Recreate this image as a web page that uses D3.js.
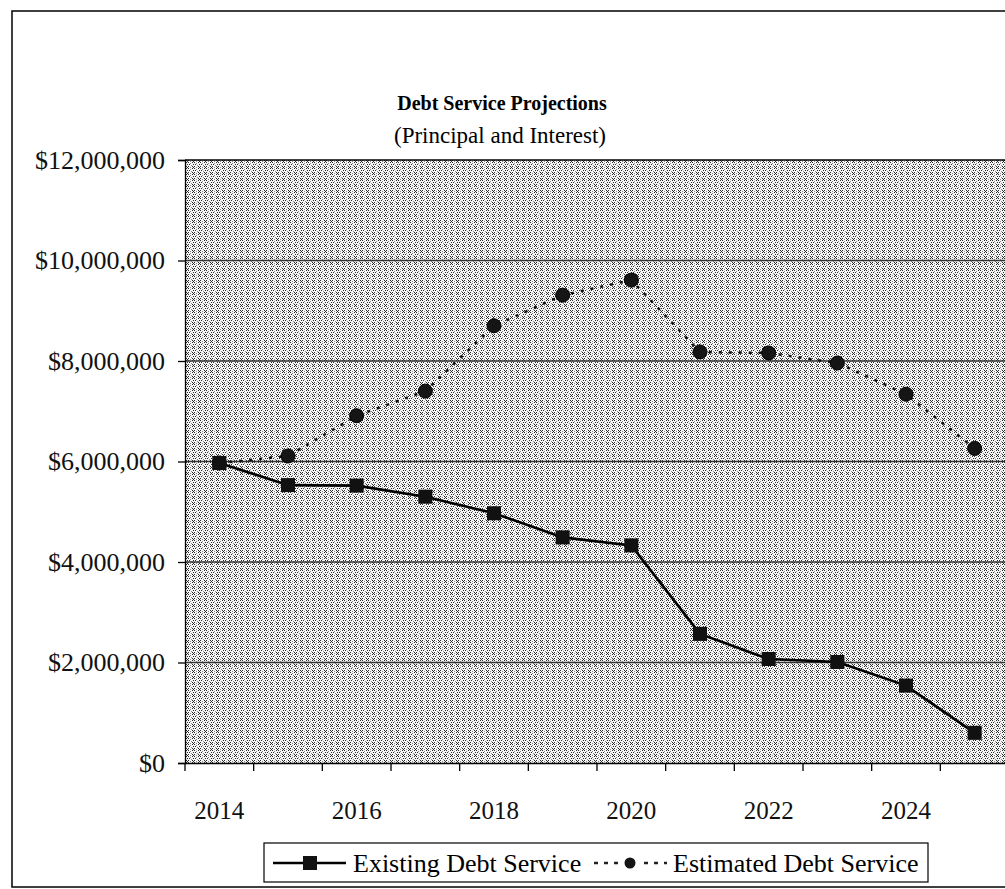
<!DOCTYPE html>
<html>
<head>
<meta charset="utf-8">
<script src="https://cdn.jsdelivr.net/npm/d3@7"></script>
<style>
  body { margin: 0; background: #fff; }
  svg { display: block; font-family: "Liberation Serif", "Times New Roman", serif; }
</style>
</head>
<body>
<svg id="chart" width="1005" height="889"></svg>
<script>
// values (dollars)
var years = [2014, 2015, 2016, 2017, 2018, 2019, 2020, 2021, 2022, 2023, 2024, 2025];
var existingDebt = [5970000, 5530000, 5520000, 5300000, 4970000, 4490000, 4330000, 2570000, 2070000, 2010000, 1540000, 600000];
var estimatedDebt = [5970000, 6110000, 6910000, 7400000, 8700000, 9310000, 9610000, 8180000, 8160000, 7960000, 7340000, 6260000];
var yTicks = [0, 2000000, 4000000, 6000000, 8000000, 10000000, 12000000];
var labelYears = [2014, 2016, 2018, 2020, 2022, 2024];

var svg = d3.select("#chart");

var plotLeft = 185, plotRight = 1009, plotTop = 160, plotBottom = 763;

var x = d3.scaleBand().domain(years).range([plotLeft, plotRight]);
var y = d3.scaleLinear().domain([0, 12000000]).range([plotBottom, plotTop]);
var money = function(d) { return "$" + d3.format(",")(d); };

// halftone-ish fill of the plot area
var defs = svg.append("defs");
var pat = defs.append("pattern")
  .attr("id", "stipple")
  .attr("patternUnits", "userSpaceOnUse")
  .attr("width", 6).attr("height", 6);
pat.append("rect").attr("width", 6).attr("height", 6).attr("fill", "#f6f6f6");
var dots = [[0,0],[2,0],[4,1],[1,2],[3,2],[5,3],[0,4],[2,4],[4,5],[1,5]];
pat.selectAll("rect.d").data(dots).enter().append("rect")
  .attr("class", "d")
  .attr("x", function(d) { return d[0]; })
  .attr("y", function(d) { return d[1]; })
  .attr("width", 1).attr("height", 1)
  .attr("fill", function(d, i) { return i % 3 === 2 ? "#888" : "#2a2a2a"; });

// outer frame
svg.append("rect")
  .attr("x", 12).attr("y", 11)
  .attr("width", 1010).attr("height", 876)
  .attr("fill", "none").attr("stroke", "#000").attr("stroke-width", 1.5);

// titles
svg.append("text")
  .attr("x", 502).attr("y", 110)
  .attr("text-anchor", "middle")
  .attr("font-size", 20).attr("font-weight", "bold")
  .text("Debt Service Projections");
svg.append("text")
  .attr("x", 500).attr("y", 143)
  .attr("text-anchor", "middle")
  .attr("font-size", 23)
  .text("(Principal and Interest)");

svg.append("rect")
  .attr("x", plotLeft).attr("y", plotTop)
  .attr("width", plotRight - plotLeft).attr("height", plotBottom - plotTop)
  .attr("fill", "url(#stipple)");

// gridlines
svg.append("g").selectAll("line").data(yTicks.slice(1)).enter().append("line")
  .attr("x1", plotLeft).attr("x2", plotRight)
  .attr("y1", function(d) { return y(d); })
  .attr("y2", function(d) { return y(d); })
  .attr("stroke", function(d) { return d === 12000000 ? "#000" : "#333"; })
  .attr("stroke-width", function(d) { return d === 12000000 ? 1.5 : 1.3; });

// y axis
var yAxis = svg.append("g")
  .attr("transform", "translate(" + plotLeft + ",0)")
  .call(d3.axisLeft(y).tickValues(yTicks).tickFormat(money).tickSize(7).tickPadding(13));
yAxis.selectAll("text").attr("font-size", 26).attr("font-family", "Liberation Serif").attr("fill", "#111");
yAxis.selectAll("line, path").attr("stroke", "#000").attr("stroke-width", 1.3);

// x axis: category ticks sit between the years
var xAxis = svg.append("g")
  .attr("transform", "translate(0," + plotBottom + ")")
  .call(d3.axisBottom(x).tickValues(labelYears).tickSize(0).tickPadding(38));
xAxis.select(".domain").attr("stroke", "#000").attr("stroke-width", 1.3);
xAxis.selectAll("text").attr("font-size", 25).attr("font-family", "Liberation Serif").attr("fill", "#111");
xAxis.selectAll(".tick line").remove();
var edges = years.map(function(d) { return x(d); });
xAxis.selectAll("line.edge").data(edges).enter().append("line")
  .attr("class", "edge")
  .attr("x1", function(d) { return d; }).attr("x2", function(d) { return d; })
  .attr("y1", 0).attr("y2", 8)
  .attr("stroke", "#000").attr("stroke-width", 1.3);

var cx = function(d, i) { return x(years[i]) + x.bandwidth() / 2; };
var line = d3.line()
  .x(function(d, i) { return cx(d, i); })
  .y(function(d) { return y(d); });

// estimated (dotted) first so the existing squares sit on top at 2014
svg.append("path")
  .attr("d", line(estimatedDebt))
  .attr("fill", "none")
  .attr("stroke", "#111")
  .attr("stroke-width", 2.5)
  .attr("stroke-dasharray", "3,7");

svg.append("path")
  .attr("d", line(existingDebt))
  .attr("fill", "none")
  .attr("stroke", "#000")
  .attr("stroke-width", 2.6);

svg.append("g").selectAll("circle").data(estimatedDebt).enter().append("circle")
  .attr("cx", cx)
  .attr("cy", function(d) { return y(d); })
  .attr("r", 7)
  .attr("fill", "#151515")
  .attr("stroke", "#000");

svg.append("g").selectAll("rect").data(existingDebt).enter().append("rect")
  .attr("x", function(d, i) { return cx(d, i) - 7; })
  .attr("y", function(d) { return y(d) - 7; })
  .attr("width", 14).attr("height", 14)
  .attr("fill", "#111");

// legend
var legend = svg.append("g");
legend.append("rect")
  .attr("x", 264).attr("y", 843)
  .attr("width", 664).attr("height", 39)
  .attr("fill", "#fff").attr("stroke", "#000").attr("stroke-width", 1.2);
legend.append("line")
  .attr("x1", 273).attr("x2", 346).attr("y1", 863).attr("y2", 863)
  .attr("stroke", "#000").attr("stroke-width", 2.6);
legend.append("rect")
  .attr("x", 303).attr("y", 856).attr("width", 14).attr("height", 14)
  .attr("fill", "#111");
legend.append("text")
  .attr("x", 353).attr("y", 872)
  .attr("font-size", 26)
  .text("Existing Debt Service");
legend.append("line")
  .attr("x1", 594).attr("x2", 667).attr("y1", 863).attr("y2", 863)
  .attr("stroke", "#222").attr("stroke-width", 2.4)
  .attr("stroke-dasharray", "4,6");
legend.append("circle")
  .attr("cx", 630).attr("cy", 863).attr("r", 7)
  .attr("fill", "#151515").attr("stroke", "#fff").attr("stroke-width", 3);
legend.append("text")
  .attr("x", 673).attr("y", 872)
  .attr("font-size", 26)
  .text("Estimated Debt Service");
</script>
</body>
</html>
